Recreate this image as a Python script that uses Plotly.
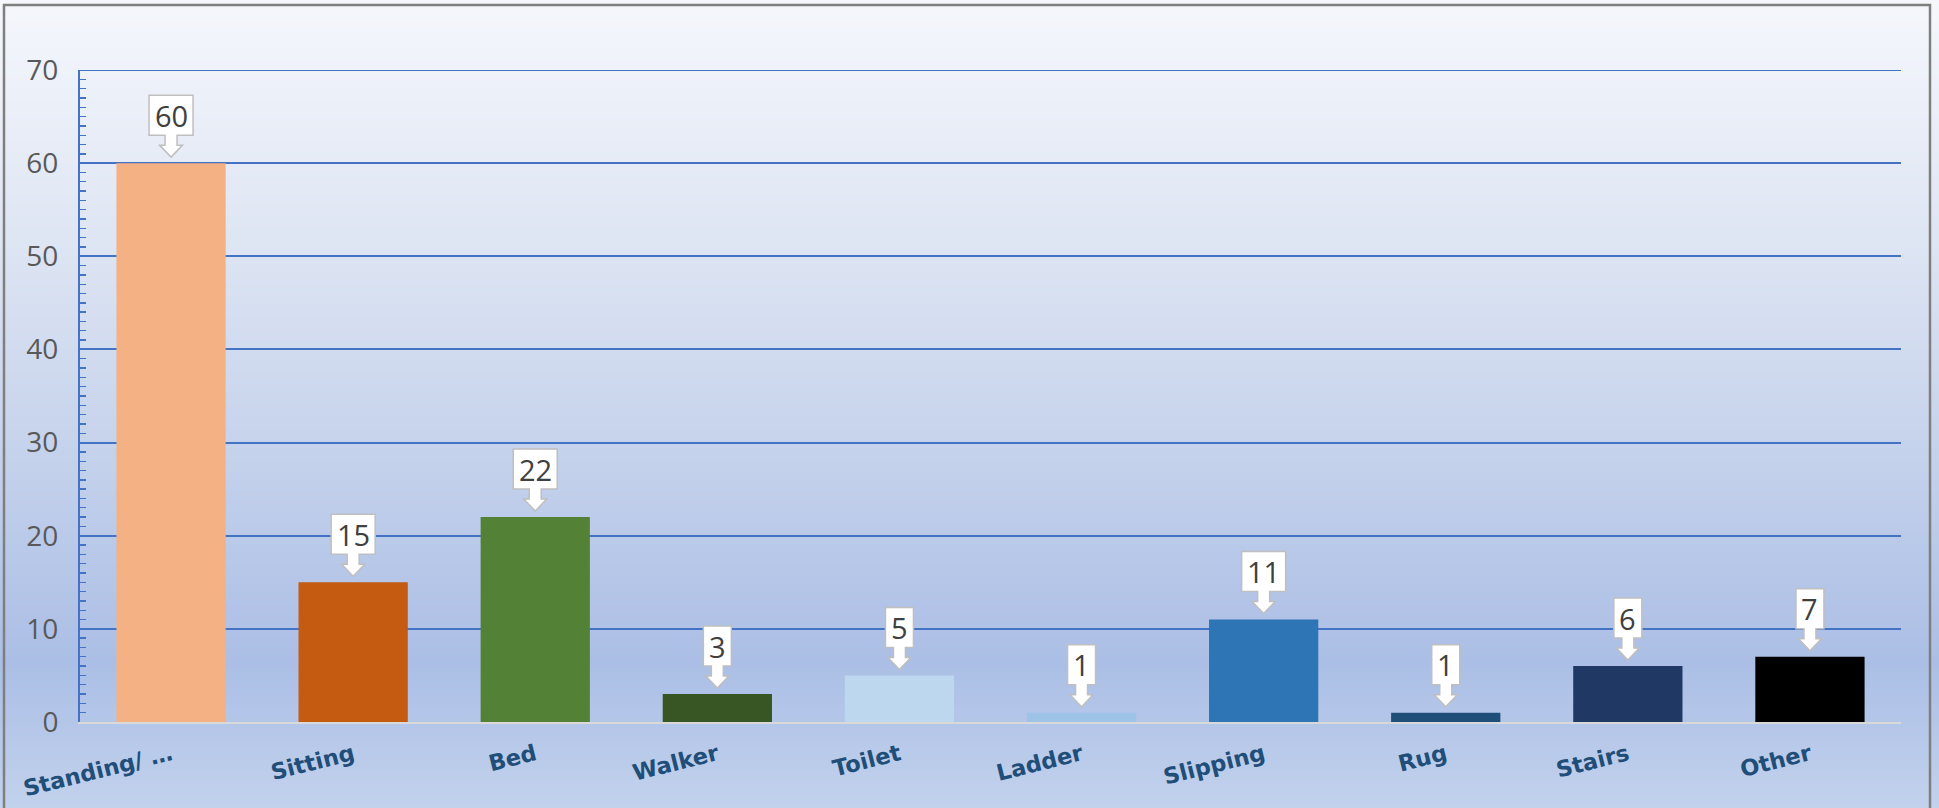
import plotly.graph_objects as go

# ---- data ----
categories = ["Standing/ …", "Sitting", "Bed", "Walker", "Toilet",
              "Ladder", "Slipping", "Rug", "Stairs", "Other"]
counts = [60, 15, 22, 3, 5, 1, 11, 1, 6, 7]
bar_colors = ["#F4B183", "#C55A11", "#538135", "#375623", "#BDD7EE",
              "#9DC3E6", "#2E75B6", "#1F4E79", "#203864", "#000000"]
y_max = 70

W, H = 1939, 808
ML, MR, MT, MB = 80, 38, 70, 86
PW, PH = W - ML - MR, H - MT - MB


def px2x(px):
    return (px - ML) / PW


def py2y(py):
    return (H - MB - py) / PH


fig = go.Figure()
fig.add_trace(go.Bar(
    x=categories, y=counts, width=0.6,
    marker=dict(color=bar_colors, line=dict(width=0)),
    hoverinfo="skip",
))

shapes = []
# background vertical gradient
stops = [(0.0, (245, 247, 252)), (0.30, (222, 229, 243)), (0.55, (198, 211, 236)),
         (0.82, (171, 190, 229)), (1.0, (194, 210, 237))]


def grad(t):
    for (t0, c0), (t1, c1) in zip(stops[:-1], stops[1:]):
        if t0 <= t <= t1:
            f = (t - t0) / (t1 - t0)
            return tuple(round(a + (b - a) * f) for a, b in zip(c0, c1))
    return stops[-1][1]


step = 4
for py in range(0, H, step):
    c = grad((py + step / 2) / H)
    shapes.append(dict(type="rect", xref="paper", yref="paper",
                       x0=px2x(-5), x1=px2x(W + 5), y0=py2y(py + step + 0.5), y1=py2y(py),
                       fillcolor="rgb(%d,%d,%d)" % c, line=dict(width=0), layer="below"))

# top gridline (plotly drops the grid line at the range edge)
shapes.append(dict(type="line", xref="paper", yref="y", x0=0, x1=1, y0=y_max, y1=y_max,
                   line=dict(color="#4472C4", width=2), layer="below"))

# outer frame
shapes.append(dict(type="rect", xref="paper", yref="paper",
                   x0=px2x(4), x1=px2x(1930), y0=py2y(H + 20), y1=py2y(5),
                   fillcolor="rgba(0,0,0,0)", line=dict(color="#7f7f7f", width=2.5),
                   layer="above"))

annotations = []
for cat, v in zip(categories, counts):
    hw = 6 + 8 * len(str(v))
    path = ("M {a},68 L {b},68 L {b},28 L 6,28 L 6,18 L 11.5,18 L 0,6 "
            "L -11.5,18 L -6,18 L -6,28 L {a},28 Z").format(a=-hw, b=hw)
    shapes.append(dict(type="path", xref="x", yref="y",
                       xsizemode="pixel", ysizemode="pixel",
                       xanchor=cat, yanchor=v, path=path,
                       fillcolor="white", line=dict(color="#BFBFBF", width=1.5),
                       layer="above"))
    annotations.append(dict(x=cat, y=v, xref="x", yref="y", text=str(v),
                            showarrow=False, yshift=48,
                            font=dict(family="Open Sans", size=29, color="#404040")))

fig.update_layout(
    width=W, height=H,
    margin=dict(l=ML, r=MR, t=MT, b=MB, pad=0, autoexpand=False),
    paper_bgcolor="rgb(245,247,252)",
    plot_bgcolor="rgba(0,0,0,0)",
    showlegend=False,
    shapes=shapes,
    annotations=annotations,
    bargap=0.4,
    xaxis=dict(
        showline=True, linecolor="#D9D9D9", linewidth=2,
        ticks="", tickangle=-14, showgrid=False, zeroline=False,
        tickfont=dict(family="DejaVu Sans", size=22.5, color="#1F4E79", weight="bold"),
        ticklabelstandoff=9, automargin=False,
        fixedrange=True,
    ),
    yaxis=dict(
        range=[0, y_max], dtick=10, tick0=0,
        showline=True, linecolor="#4472C4", linewidth=2,
        ticks="inside", ticklen=8, tickcolor="#4472C4", tickwidth=1.5,
        minor=dict(dtick=1, ticks="inside", ticklen=6, tickcolor="#4472C4",
                   tickwidth=1.4, showgrid=False),
        showgrid=True, gridcolor="#4472C4", gridwidth=2,
        zeroline=False,
        tickfont=dict(family="Open Sans", size=28, color="#595959"),
        ticklabelstandoff=14, automargin=False,
        fixedrange=True,
    ),
)

fig.write_html("out.html",
               config={"displayModeBar": False, "staticPlot": True},
               post_script="document.body.style.margin='0';document.body.style.overflow='hidden';")
